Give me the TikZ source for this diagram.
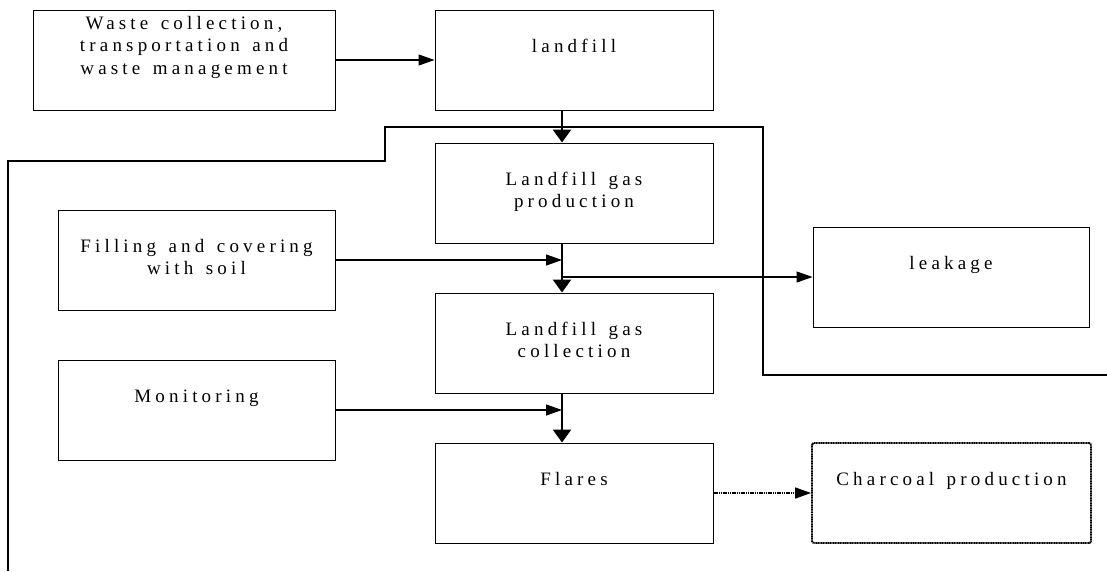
\documentclass[tikz,border=0pt]{standalone}
\usepackage{fontspec}
\setmainfont{Liberation Serif}[LetterSpace=22,WordSpace=1.4]
\usetikzlibrary{arrows.meta,calc}
\tikzset{
  boxnode/.style={draw, line width=1pt, inner sep=0pt, rectangle},
  dotbox/.style={draw, line width=1.9pt, dash pattern=on 1.2pt off 0.5pt, inner sep=0pt, rectangle, rounded corners=2pt},
  thinarrow/.style={line width=1.2pt, -{Triangle[length=16pt,width=11pt]}},
  thickarrow/.style={line width=2.8pt, -{Triangle[length=13pt,width=18pt]}},
  dotarrow/.style={line width=1.5pt, dash pattern=on 1.2pt off 0.6pt, -{Triangle[length=16pt,width=11pt]}},
  feedline/.style={line width=1.1pt},
}
\newcommand{\boxtext}[4]{\parbox[c][#2pt][t]{#1pt}{\centering\fontsize{19}{22.5}\selectfont\rule{0pt}{#3pt}#4}}
\begin{document}
\begin{tikzpicture}[x=1pt,y=-1pt]
\useasboundingbox (0,0) rectangle (1107,571);
% boxes
\node[boxnode] (waste) at (184,60) {\boxtext{302}{100}{19}{Waste collection,\\transportation and\\waste management}};
\node[boxnode] (landfill) at (574,60) {\boxtext{278}{100}{42}{landfill}};
\node[boxnode] (lgp) at (574,193) {\boxtext{278}{100}{42}{Landfill gas\\production}};
\node[boxnode] (filling) at (196.5,260) {\boxtext{277}{100}{42}{Filling and covering\\with soil}};
\node[boxnode] (leakage) at (951,277) {\boxtext{276}{100}{42}{leakage}};
\node[boxnode] (lgc) at (574,343) {\boxtext{278}{100}{42}{Landfill gas\\collection}};
\node[boxnode] (monitoring) at (196.5,410) {\boxtext{277}{100}{42}{Monitoring}};
\node[boxnode] (flares) at (574,493) {\boxtext{278}{100}{42}{Flares}};
\node[dotbox] (charcoal) at (951.5,493) {\boxtext{279}{100}{42}{Charcoal production}};
% spine coordinate
\coordinate (spine) at (562,0);
% feedback line
\coordinate (f0) at (8,571);
\coordinate (f1) at (8,161);
\coordinate (f2) at (385,161);
\coordinate (f3) at (385,127);
\coordinate (f4) at (763,127);
\coordinate (f5) at (763,375);
\coordinate (f6) at (1107,375);
\draw[feedline] (f0) -- (f1) -- (f2) -- (f3) -- (f4) -- (f5) -- (f6);
% connectors
\draw[thinarrow] (waste.east) -- (landfill.west);
\draw[thickarrow] (landfill.south -| spine) -- (lgp.north -| spine);
\draw[thickarrow] (lgp.south -| spine) -- (lgc.north -| spine);
\draw[thinarrow] (filling.east) -- (filling.east -| spine);
\draw[thinarrow] (spine |- leakage.west) -- (leakage.west);
\draw[thickarrow] (lgc.south -| spine) -- (flares.north -| spine);
\draw[thinarrow] (monitoring.east) -- (monitoring.east -| spine);
\draw[dotarrow] (flares.east) -- (charcoal.west);
\end{tikzpicture}
\end{document}
